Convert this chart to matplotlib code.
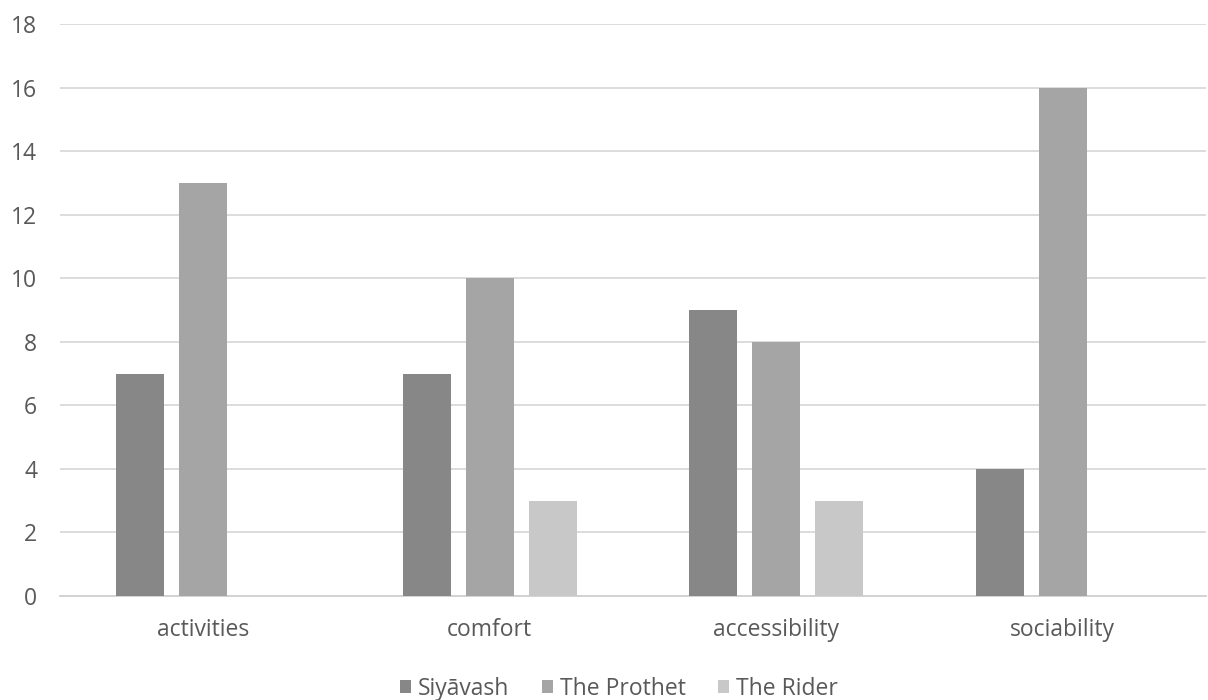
import numpy as np
import matplotlib.pyplot as plt

categories = ['activities', 'comfort', 'accessibility', 'sociability']
series_names = ['Siyāvash', 'The Prothet', 'The Rider']
siyavash = [7, 7, 9, 4]
prothet = [13, 10, 8, 16]
rider = [0, 3, 3, 0]
colors = ['#878787', '#a5a5a5', '#c8c8c8']

plt.rcParams['font.family'] = ['Open Sans', 'DejaVu Sans']
txt = '#595959'

fig = plt.figure(figsize=(12.08, 7.0), dpi=100)
ax = fig.add_axes([60/1208, 104/700, 1146/1208, 572/700])

x = np.arange(len(categories))
w = 0.1675
step = 0.22
for i, (vals, name) in enumerate(zip([siyavash, prothet, rider], series_names)):
    ax.bar(x + (i - 1) * step, vals, width=w, color=colors[i], label=name, zorder=3)

ax.set_xlim(-0.5, 3.5)
ax.set_ylim(0, 18)
ax.set_yticks(range(0, 19, 2))
ax.set_xticks(x)
ax.set_xticklabels(categories)
ax.yaxis.grid(True, color='#d9d9d9', linewidth=1.3, zorder=0)
for s in ['top', 'right', 'left']:
    ax.spines[s].set_visible(False)
ax.spines['bottom'].set_color('#d0d0d0')
ax.spines['bottom'].set_linewidth(1.3)
ax.tick_params(axis='both', length=0, labelsize=16.5, colors=txt)
ax.tick_params(axis='y', pad=16.5)
ax.tick_params(axis='x', pad=15.5)

leg = fig.legend(loc='center', bbox_to_anchor=(619/1208, 1 - 689/700), ncol=3,
                 frameon=False, fontsize=16.5, handlelength=0.5, handleheight=0.5,
                 handletextpad=0.3, columnspacing=1.4)
for t in leg.get_texts():
    t.set_color(txt)

fig.savefig('out.png', dpi=100)
